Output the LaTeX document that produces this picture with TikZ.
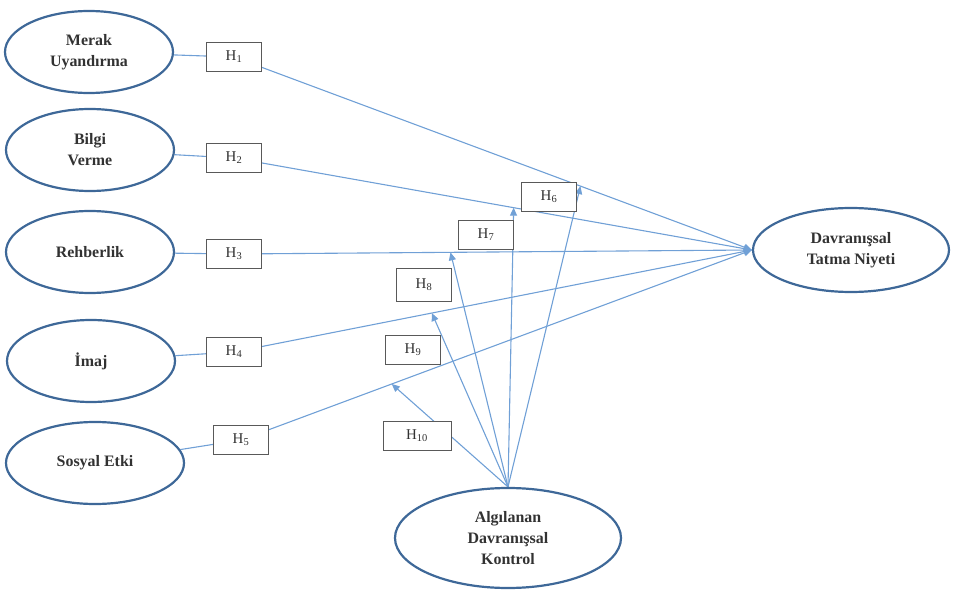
\documentclass[tikz,border=0pt]{standalone}
\usepackage{fontspec}
\setmainfont{Liberation Serif}
\usetikzlibrary{arrows.meta,shapes.geometric,calc,backgrounds}
\definecolor{linkblue}{RGB}{112,160,214}
\definecolor{rimblue}{RGB}{62,104,152}
\definecolor{txtgray}{RGB}{50,50,50}

\begin{document}
\begin{tikzpicture}[
  x=1bp, y=-1bp,
  construct/.style={ellipse, draw=rimblue, line width=2.2bp, minimum width=168bp,
    minimum height=82bp, align=center, inner sep=0pt, text=txtgray,
    font=\fontsize{16}{21}\selectfont\bfseries},
  hyp/.style={rectangle, draw=black!65, line width=0.9bp, fill=white,
    minimum width=55bp, minimum height=29bp, inner sep=2bp, text=txtgray,
    font=\fontsize{15}{17}\selectfont},
  link/.style={draw=linkblue, line width=1.1bp},
  arr/.style={link, -{Triangle[length=8bp, width=7bp]}}
]
\useasboundingbox (0,0) rectangle (956,591);

% Independent constructs (left column)
\node[construct] (merak) at (89,52) {Merak\\Uyandırma};
\node[construct] (bilgi) at (90,150) {Bilgi\\Verme};
\node[construct] (rehber) at (90,252) {Rehberlik};
\node[construct] (imaj) at (91,361) {İmaj};
\node[construct, minimum width=178bp] (sosyal) at (95,463) {Sosyal Etki};

% Dependent construct and moderator
\node[construct, minimum width=196bp, minimum height=84bp] (niyet) at (851,250)
  {Davranışsal\\Tatma Niyeti};
\node[construct, minimum width=226bp, minimum height=100bp] (kontrol) at (508,538)
  {Algılanan\\Davranışsal\\Kontrol};

% Hypothesis labels on the direct paths
\node[hyp] (h1) at (234,57) {H\textsubscript{1}};
\node[hyp] (h2) at (234,158) {H\textsubscript{2}};
\node[hyp] (h3) at (234,254) {H\textsubscript{3}};
\node[hyp] (h4) at (234,352) {H\textsubscript{4}};
\node[hyp] (h5) at (241,440) {H\textsubscript{5}};

% Hypothesis labels for the moderating paths
\node[hyp] (h6) at (549,197) {H\textsubscript{6}};
\node[hyp] (h7) at (486,235) {H\textsubscript{7}};
\node[hyp, minimum height=33bp] (h8) at (424,285) {H\textsubscript{8}};
\node[hyp] (h9) at (413,350) {H\textsubscript{9}};
\node[hyp, minimum width=68bp] (h10) at (417,436) {H\textsubscript{10}};

% Points where the moderating arrows meet the direct paths
\coordinate (m1) at ($(h1)!0.669!(niyet.west)$);
\coordinate (m2) at ($(h2)!0.540!(niyet.west)$);
\coordinate (m3) at ($(h3)!0.418!(niyet.west)$);
\coordinate (m4) at ($(h4)!0.382!(niyet.west)$);
\coordinate (m5) at ($(h5)!0.295!(niyet.west)$);

\begin{scope}[on background layer]
  % direct paths
  \draw[link] (merak) -- (h1);
  \draw[link] (bilgi) -- (h2);
  \draw[link] (rehber) -- (h3);
  \draw[link] (imaj) -- (h4);
  \draw[link] (sosyal) -- (h5);
  \foreach \h in {h1,h2,h3,h4,h5}
    \draw[arr] (\h) -- (niyet.west);

  % moderating paths
  \foreach \m in {m1,m2,m3,m4,m5}
    \draw[arr] (kontrol.north) -- (\m);
\end{scope}

\end{tikzpicture}
\end{document}
